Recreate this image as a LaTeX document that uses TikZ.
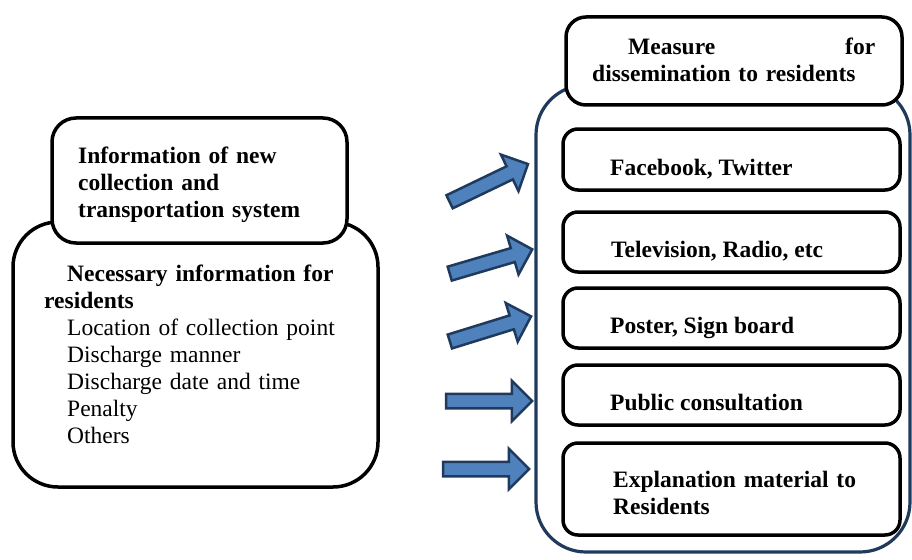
\documentclass[tikz,border=0pt]{standalone}
\usepackage{fontspec}
\setmainfont{Liberation Serif}
\usetikzlibrary{shapes.arrows,positioning}
\definecolor{navyline}{HTML}{1F3A5C}
\definecolor{arrowfill}{HTML}{4F81BD}
\tikzstyle{groupbox} = [rectangle, draw=black, line width=3.5pt, fill=white, rounded corners=45pt, inner sep=0pt]
\tikzstyle{headbox} = [rectangle, draw=black, line width=3.5pt, fill=white, rounded corners=24pt, inner sep=0pt]
\tikzstyle{mediabox} = [rectangle, draw=black, line width=3.5pt, fill=white, rounded corners=15pt, inner sep=0pt]
\tikzstyle{channelframe} = [rectangle, draw=navyline, line width=3.2pt, rounded corners=50pt, inner sep=0pt]
\tikzstyle{boxtext} = [anchor=base west, inner sep=0pt, align=left]
\tikzstyle{blockarrow} = [single arrow, draw=navyline, fill=arrowfill, line width=2.5pt, inner xsep=0pt, inner ysep=6pt, single arrow head extend=13pt]

\begin{document}
\begin{tikzpicture}[x=1pt, y=-1pt, font=\fontsize{23.5}{27}\selectfont]
\useasboundingbox (0,0) rectangle (912,559);

% Left side: information for residents
\node[groupbox, minimum width=365pt, minimum height=265pt] (resinfo) at (195.5,354.5) {};
\node[headbox, minimum width=295pt, minimum height=125pt] (newsystem) at (199.5,180.5) {};
\node[boxtext, text width=280pt] (newsystemtext) at (78,163)
  {\textbf{Information of new}\\\textbf{collection and}\\\textbf{transportation system}};
\node[boxtext, text width=330pt] (resinfotext) at (44,281)
  {\hspace*{23pt}\textbf{Necessary information for}\\
   \textbf{residents}\\
   \hspace*{23pt}Location of collection point\\
   \hspace*{23pt}Discharge manner\\
   \hspace*{23pt}Discharge date and time\\
   \hspace*{23pt}Penalty\\
   \hspace*{23pt}Others};

% Right side: dissemination measures
\node[channelframe, minimum width=374pt, minimum height=467pt] (channels) at (723,318.5) {};
\node[mediabox, rounded corners=20pt, minimum width=336pt, minimum height=88pt] (measure) at (734,61) {};
\node[boxtext, text width=283pt] (measuretext) at (592,55)
  {\bfseries\hspace*{36pt}Measure\hfill for\\dissemination to residents};

\node[mediabox, minimum width=337pt, minimum height=61pt] (facebook) at (731.5,159.5) {};
\node[boxtext] (facebooktext) at (610,175) {\textbf{Facebook, Twitter}};

\node[mediabox, minimum width=337pt, minimum height=60pt] (tv) at (731.5,242) {};
\node[boxtext] (tvtext) at (611,257) {\textbf{Television, Radio, etc}};

\node[mediabox, minimum width=337pt, minimum height=60pt] (poster) at (731.5,318) {};
\node[boxtext] (postertext) at (610,333) {\textbf{Poster, Sign board}};

\node[mediabox, minimum width=337pt, minimum height=60pt] (consult) at (731.5,395) {};
\node[boxtext] (consulttext) at (610,410) {\textbf{Public consultation}};

\node[mediabox, minimum width=337pt, minimum height=92pt] (material) at (731.5,489) {};
\node[boxtext, text width=280pt] (materialtext) at (613,487)
  {\textbf{Explanation material to}\\\textbf{Residents}};

% Block arrows
\node[blockarrow, minimum height=87pt, rotate=25.7] (arrfacebook) at (485.5,184.5) {};
\node[blockarrow, minimum height=86pt, rotate=16.4] (arrtv) at (487.5,262.5) {};
\node[blockarrow, minimum height=85pt, rotate=17.2] (arrposter) at (487,330) {};
\node[blockarrow, minimum height=86pt] (arrconsult) at (485.5,401) {};
\node[blockarrow, minimum height=86pt] (arrmaterial) at (482.5,469) {};

\end{tikzpicture}
\end{document}
